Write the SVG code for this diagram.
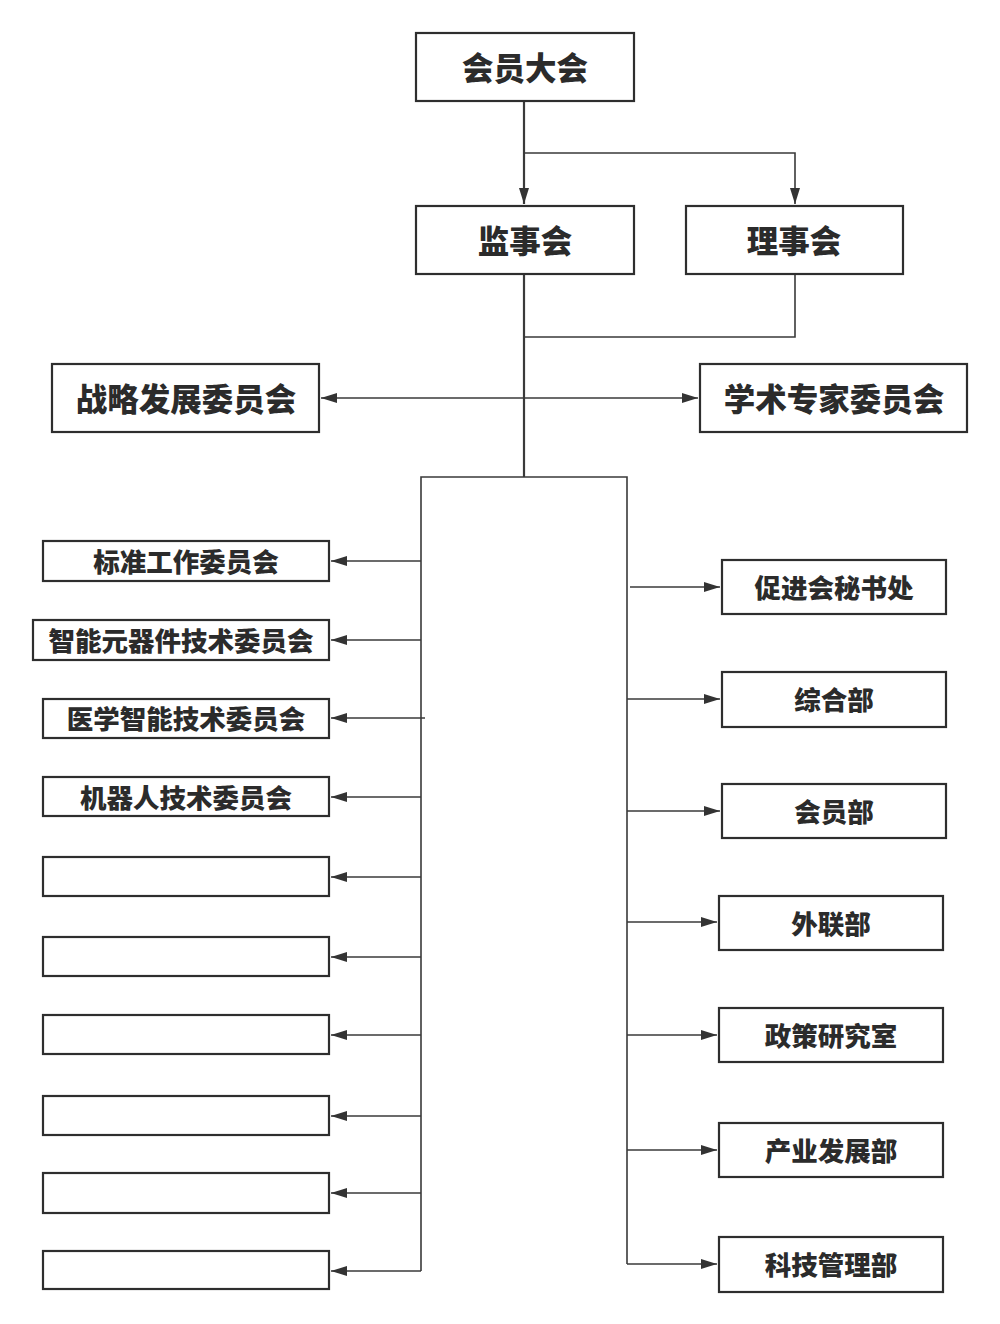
<svg xmlns="http://www.w3.org/2000/svg" width="1000" height="1324" viewBox="0 0 1000 1324">
<style>
.box{fill:#fff;stroke:#2e2e2e;stroke-width:2.2}
.t{font-family:"Noto Sans CJK SC","Noto Sans",sans-serif;font-weight:900;fill:#2b2b2b;text-anchor:middle;dominant-baseline:central}
.big{font-size:31.5px}
.sm{font-size:26.5px}
.c{fill:none;stroke:#3a3a3a;stroke-width:1.6}
.trunk{stroke-width:2.2}
</style>
<defs>
<marker id="ah" markerUnits="userSpaceOnUse" markerWidth="17" markerHeight="11" refX="16" refY="5" orient="auto-start-reverse">
<path d="M0,0 L16,5 L0,10 z" fill="#333"/>
</marker>
</defs>
<rect width="1000" height="1324" fill="#fff"/>
<g id="connectors">
<path class="c trunk" d="M524,101 V204" marker-end="url(#ah)"/>
<path class="c" d="M524,153 H795 V204" marker-end="url(#ah)"/>
<path class="c trunk" d="M524,274 V477"/>
<path class="c" d="M795,274 V337 H524"/>
<path class="c" d="M321,398 H698" marker-start="url(#ah)" marker-end="url(#ah)"/>
<path class="c" d="M421,1271 V477 H627 V1264"/>
<path class="c" d="M421,561 H331" marker-end="url(#ah)"/>
<path class="c" d="M421,640 H331" marker-end="url(#ah)"/>
<path class="c" d="M425,718 H331" marker-end="url(#ah)"/>
<path class="c" d="M421,797 H331" marker-end="url(#ah)"/>
<path class="c" d="M421,877 H331" marker-end="url(#ah)"/>
<path class="c" d="M421,957 H331" marker-end="url(#ah)"/>
<path class="c" d="M421,1035 H331" marker-end="url(#ah)"/>
<path class="c" d="M421,1116 H331" marker-end="url(#ah)"/>
<path class="c" d="M421,1193 H331" marker-end="url(#ah)"/>
<path class="c" d="M421,1271 H331" marker-end="url(#ah)"/>
<path class="c" d="M630,587 H720" marker-end="url(#ah)"/>
<path class="c" d="M627,699 H720" marker-end="url(#ah)"/>
<path class="c" d="M627,811 H720" marker-end="url(#ah)"/>
<path class="c" d="M627,922 H717" marker-end="url(#ah)"/>
<path class="c" d="M627,1035 H717" marker-end="url(#ah)"/>
<path class="c" d="M627,1150 H717" marker-end="url(#ah)"/>
<path class="c" d="M627,1264 H717" marker-end="url(#ah)"/>
</g>
<g id="n-huiyuandahui"><rect class="box" x="416" y="33" width="218" height="68"/><text class="t big" x="525" y="66">会员大会</text></g>
<g id="n-jianshihui"><rect class="box" x="416" y="206" width="218" height="68"/><text class="t big" x="525" y="239">监事会</text></g>
<g id="n-lishihui"><rect class="box" x="686" y="206" width="217" height="68"/><text class="t big" x="794" y="239">理事会</text></g>
<g id="n-zhanlue"><rect class="box" x="52" y="364" width="267" height="68"/><text class="t big" x="186" y="397">战略发展委员会</text></g>
<g id="n-xueshu"><rect class="box" x="700" y="364" width="267" height="68"/><text class="t big" x="834" y="397">学术专家委员会</text></g>
<g id="n-biaozhun"><rect class="box" x="43" y="541" width="286" height="40"/><text class="t sm" x="186" y="560">标准工作委员会</text></g>
<g id="n-zhineng"><rect class="box" x="33" y="620" width="296" height="40"/><text class="t sm" x="181" y="639">智能元器件技术委员会</text></g>
<g id="n-yixue"><rect class="box" x="43" y="699" width="286" height="39"/><text class="t sm" x="186" y="717">医学智能技术委员会</text></g>
<g id="n-jiqiren"><rect class="box" x="43" y="777" width="286" height="39"/><text class="t sm" x="186" y="796">机器人技术委员会</text></g>
<g id="n-empty1"><rect class="box" x="43" y="857" width="286" height="39"/></g>
<g id="n-empty2"><rect class="box" x="43" y="937" width="286" height="39"/></g>
<g id="n-empty3"><rect class="box" x="43" y="1015" width="286" height="39"/></g>
<g id="n-empty4"><rect class="box" x="43" y="1096" width="286" height="39"/></g>
<g id="n-empty5"><rect class="box" x="43" y="1173" width="286" height="40"/></g>
<g id="n-empty6"><rect class="box" x="43" y="1251" width="286" height="38"/></g>
<g id="n-mishuchu"><rect class="box" x="722" y="560" width="224" height="54"/><text class="t sm" x="834" y="586">促进会秘书处</text></g>
<g id="n-zonghebu"><rect class="box" x="722" y="672" width="224" height="55"/><text class="t sm" x="834" y="698">综合部</text></g>
<g id="n-huiyuanbu"><rect class="box" x="722" y="784" width="224" height="54"/><text class="t sm" x="834" y="810">会员部</text></g>
<g id="n-wailianbu"><rect class="box" x="719" y="896" width="224" height="54"/><text class="t sm" x="831" y="922">外联部</text></g>
<g id="n-zhengce"><rect class="box" x="719" y="1008" width="224" height="54"/><text class="t sm" x="831" y="1034">政策研究室</text></g>
<g id="n-chanye"><rect class="box" x="719" y="1123" width="224" height="54"/><text class="t sm" x="831" y="1149">产业发展部</text></g>
<g id="n-keji"><rect class="box" x="719" y="1237" width="224" height="55"/><text class="t sm" x="831" y="1263">科技管理部</text></g>
</svg>
